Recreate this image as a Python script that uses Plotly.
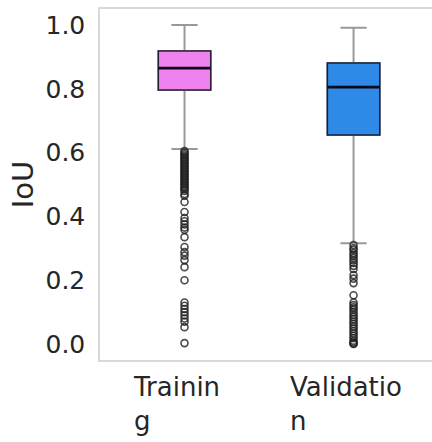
import plotly.graph_objects as go

categories = ["Training", "Validation"]
label_lines = [["Trainin", "g"], ["Validatio", "n"]]
box_colors = ["#EE82EE", "#2F89E6"]
edge_colors = ["#2b1f33", "#14233d"]

q1 = [0.796, 0.655]
median = [0.865, 0.805]
q3 = [0.918, 0.881]
lower_fence = [0.611, 0.316]
upper_fence = [1.0, 0.991]

training_outliers = [
    0.605, 0.60, 0.595, 0.59, 0.585, 0.58, 0.575, 0.57, 0.565, 0.56, 0.555, 0.55,
    0.545, 0.54, 0.535, 0.53, 0.525, 0.52, 0.515, 0.51, 0.505, 0.50, 0.495, 0.49,
    0.485, 0.48, 0.47, 0.465, 0.445, 0.414, 0.395, 0.385, 0.375, 0.365, 0.358,
    0.335, 0.304, 0.288, 0.277, 0.263, 0.241, 0.20, 0.13, 0.12, 0.11, 0.10, 0.09,
    0.08, 0.07, 0.053, 0.003,
]
validation_outliers = [
    0.31, 0.30, 0.295, 0.285, 0.278, 0.27, 0.262, 0.254, 0.245, 0.235, 0.216,
    0.205, 0.191, 0.153, 0.13, 0.122, 0.115, 0.108, 0.10, 0.092, 0.085, 0.078,
    0.07, 0.063, 0.055, 0.048, 0.04, 0.033, 0.025, 0.018, 0.01, 0.005, 0.002, 0.0,
]
outliers = [training_outliers, validation_outliers]

y_ticks = [0.0, 0.2, 0.4, 0.6, 0.8, 1.0]

FONT = "DejaVu Sans"
TXT = "#262626"

fig = go.Figure()

for i, cat in enumerate(categories):
    # whiskers (gray, with caps)
    fig.add_trace(go.Box(
        x=[cat], q1=[q1[i]], median=[median[i]], q3=[q3[i]],
        lowerfence=[lower_fence[i]], upperfence=[upper_fence[i]],
        width=0.31, whiskerwidth=0.5, fillcolor="rgba(0,0,0,0)",
        line=dict(color="#999999", width=2), boxpoints=False,
        showlegend=False, hoverinfo="skip",
    ))
    # coloured box
    fig.add_trace(go.Box(
        x=[cat], q1=[q1[i]], median=[median[i]], q3=[q3[i]],
        lowerfence=[q1[i]], upperfence=[q3[i]],
        width=0.31, whiskerwidth=0, fillcolor=box_colors[i],
        line=dict(color=edge_colors[i], width=1.5), boxpoints=False,
        showlegend=False, hoverinfo="skip",
    ))
    # thick median line
    fig.add_trace(go.Box(
        x=[cat], q1=[median[i]], median=[median[i]], q3=[median[i]],
        lowerfence=[median[i]], upperfence=[median[i]],
        width=0.31, whiskerwidth=0, fillcolor="rgba(0,0,0,0)",
        line=dict(color="#0a0a1a", width=2.8), boxpoints=False,
        showlegend=False, hoverinfo="skip",
    ))
    # outliers
    fig.add_trace(go.Scatter(
        x=[cat] * len(outliers[i]), y=outliers[i], mode="markers",
        marker=dict(symbol="circle-open", size=7,
                    color="rgba(30,30,30,0.8)", line=dict(width=1.6)),
        showlegend=False, hoverinfo="skip",
    ))
    fig.add_annotation(
        x=cat, xref="x", y=0, yref="paper", yanchor="top", xanchor="center",
        yshift=-10, xshift=-8, align="left", showarrow=False,
        text="<br>".join(label_lines[i]),
        font=dict(family=FONT, size=26, color=TXT),
    )

fig.update_layout(
    width=432, height=442,
    margin=dict(l=100, r=0, t=9, b=82, pad=0),
    plot_bgcolor="white", paper_bgcolor="white",
    boxmode="overlay",
    font=dict(family=FONT, color=TXT),
)
fig.update_xaxes(
    type="category", categoryorder="array", categoryarray=categories,
    range=[-0.5, 1.464], showticklabels=False, showgrid=False, zeroline=False,
    showline=True, mirror=True, linecolor="#d9d9d9", linewidth=1.5, ticks="",
)
fig.update_yaxes(
    range=[-0.05, 1.05], tickvals=y_ticks, tickformat=".1f",
    showgrid=False, zeroline=False, showline=True, mirror=False,
    linecolor="#d9d9d9", linewidth=1.5, ticks="",
    ticklabelstandoff=8,
    tickfont=dict(family=FONT, size=25, color=TXT),
    title=dict(text="IoU", font=dict(family=FONT, size=29, color=TXT), standoff=3),
)

fig.write_html("out.html")
